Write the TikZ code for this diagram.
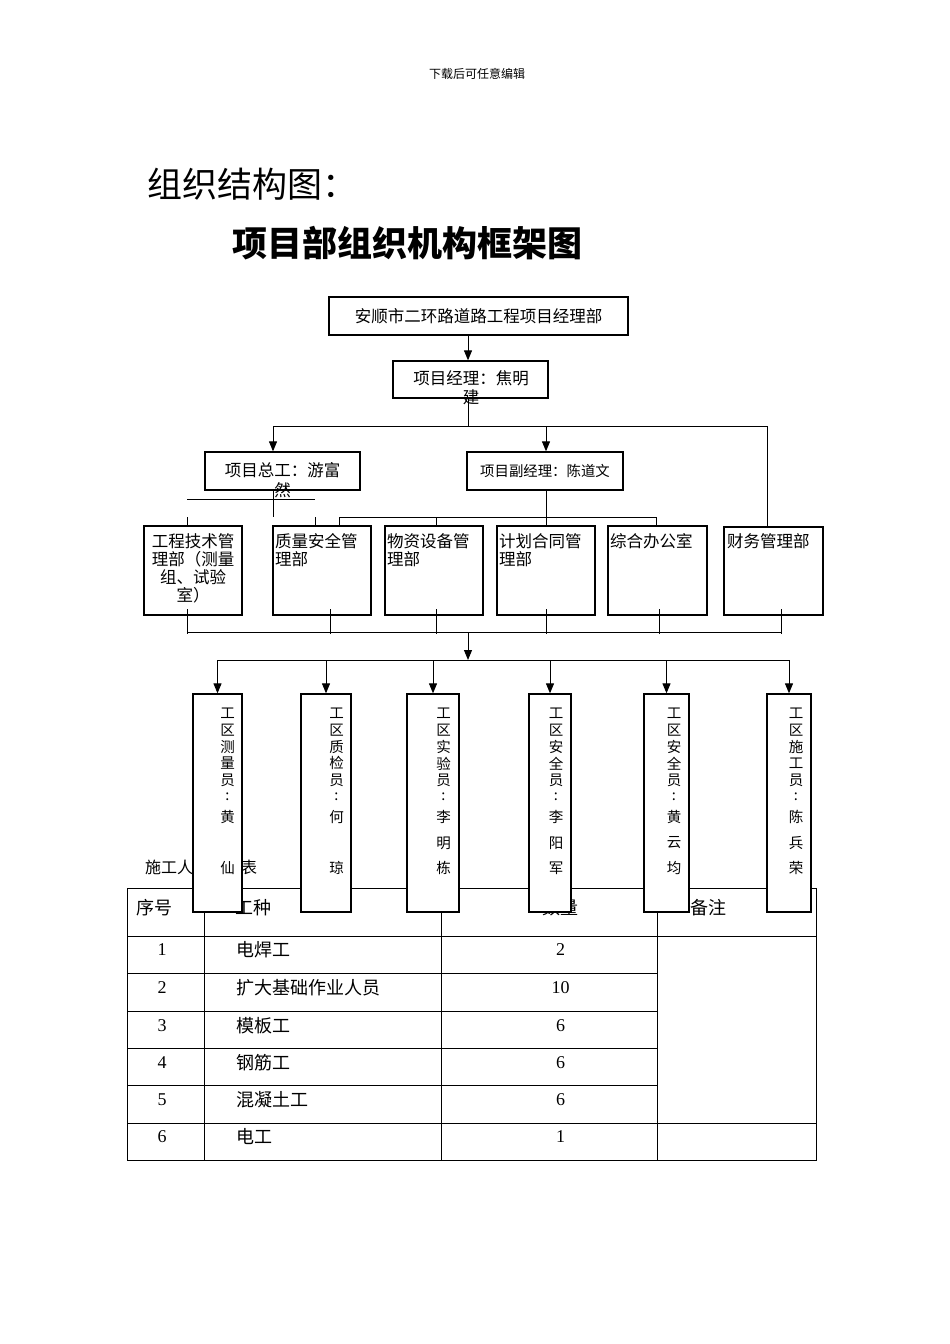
\documentclass[tikz,border=0pt]{standalone}
\usepackage{fontspec}
\setmainfont{Noto Sans CJK SC}
\newfontfamily\numfont{Liberation Serif}
\usetikzlibrary{arrows.meta,positioning}
\tikzset{
  box/.style={draw, line width=1.3pt, inner sep=0pt},
  dept/.style={box, minimum height=89pt},
  wbox/.style={box, fill=white, minimum height=218pt},
  arr/.style={-{Triangle[length=10pt,width=8pt]}, line width=1pt},
  ln/.style={line width=1pt},
  txt/.style={font=\fontsize{16.5}{19}\selectfont, inner sep=0pt},
  dtxt/.style={font=\fontsize{16.5}{18}\selectfont, inner sep=0pt},
  vch/.style={font=\fontsize{14.5}{15}\selectfont, inner sep=0pt},
  cell/.style={font=\fontsize{18}{20}\selectfont, inner sep=0pt},
  grid/.style={line width=0.9pt},
}
% one column of upright characters in a tall box
\newcommand\vcol[4]{%
  \foreach \vc [count=\k] in {#3}
    \node[vch] (#1r\k) at (#2,{713+16.8*(\k-1)}) {\vc};
  \foreach \yy/\vc [count=\k] in {#4}
    \node[vch] (#1n\k) at (#2,\yy) {\vc};
}

\begin{document}
\begin{tikzpicture}[x=1pt, y=-1pt]
  \useasboundingbox[fill=white] (0,0) rectangle (950,1344);

  % headings
  \node[font=\fontsize{12}{14}\selectfont] (hdr) at (477,74) {下载后可任意编辑};
  \node[font=\fontsize{35}{40}\selectfont, anchor=west, inner sep=0pt] (ttl1) at (147,184) {组织结构图：};
  \node[font=\fontsize{35}{40}\selectfont\bfseries, anchor=west, inner sep=0pt] (ttl2) at (232,243) {项目部组织机构框架图};

  % upper levels
  \node[box, txt, minimum width=299pt, minimum height=38pt] (top) at (478.5,316) {安顺市二环路道路工程项目经理部};
  \node[box, minimum width=155pt, minimum height=37pt] (pm) at (470.5,379.5) {};
  \node[txt, align=center, anchor=north] (pmt) at (471,370) {项目经理：焦明\\建};
  \node[box, minimum width=155pt, minimum height=38pt] (chief) at (282.5,471) {};
  \node[txt, align=center, anchor=north, font=\fontsize{16.5}{20}\selectfont] (chieft) at (282.5,462) {项目总工：游富\\然};
  \node[box, minimum width=156pt, minimum height=38pt, font=\fontsize{14.4}{16}\selectfont] (dpm) at (545,471) {项目副经理：陈道文};

  % departments
  \node[dept, minimum width=98pt] (d1) at (193,570.5) {};
  \node[dept, minimum width=98pt] (d2) at (322,570.5) {};
  \node[dept, minimum width=98pt] (d3) at (434,570.5) {};
  \node[dept, minimum width=98pt] (d4) at (546,570.5) {};
  \node[dept, minimum width=99pt] (d5) at (657.5,570.5) {};
  \node[dept, minimum width=99pt, minimum height=88pt] (d6) at (773.5,571) {};
  \node[dtxt, align=center, anchor=north] (d1t) at (193,533) {工程技术管\\理部（测量\\组、试验\\室）};
  \node[dtxt, align=left, anchor=north west] (d2t) at (275,533) {质量安全管\\理部};
  \node[dtxt, align=left, anchor=north west] (d3t) at (387,533) {物资设备管\\理部};
  \node[dtxt, align=left, anchor=north west] (d4t) at (499,533) {计划合同管\\理部};
  \node[dtxt, anchor=north west] (d5t) at (610,533) {综合办公室};
  \node[dtxt, anchor=north west] (d6t) at (727,533) {财务管理部};

  % connectors, upper part
  \coordinate (j1) at (468,426);
  \coordinate (jl) at (273,426);
  \coordinate (jm) at (546,426);
  \coordinate (jr) at (767,426);
  \draw[arr] (top.south -| j1) -- (pm.north -| j1);
  \draw[ln] (pm.south -| j1) -- (j1);
  \draw[ln] (jl) -- (jr);
  \draw[arr] (jl) -- (jl |- chief.north);
  \draw[arr] (jm) -- (jm |- dpm.north);
  \draw[ln] (jr) -- (jr |- d6.north);

  % under the chief engineer
  \coordinate (c1) at (273,517);
  \draw[ln] (chief.south -| c1) -- (c1);
  \draw[ln] (187,499) -- (315,499);
  \foreach \x in {187,315}
    \draw[ln] (\x,517) -- (\x,526);

  % under the deputy manager
  \coordinate (c2) at (546,517);
  \draw[ln] (dpm.south -| c2) -- (c2);
  \draw[ln] (339,517) -- (656,517);
  \foreach \x in {339,436,546,656}
    \draw[ln] (\x,517) -- (\x,526);

  % bottom collector
  \foreach \x in {187,330,436,546,659,781}
    \draw[ln] (\x,609) -- (\x,634);
  \draw[ln] (187,632) -- (781,632);
  \coordinate (bus) at (468,660);
  \draw[arr] (468,632) -- (bus);

  % staff table
  \node[font=\fontsize{16}{18}\selectfont, anchor=west, inner sep=0pt] (tcap) at (145,867) {施工人员配备表};
  \draw[grid] (127,888) rectangle (816,1160);
  \foreach \x in {204,441,657.5}
    \draw[grid] (\x,888) -- (\x,1160);
  \draw[grid] (127,936) -- (816,936);
  \foreach \y in {973,1011,1048,1085}
    \draw[grid] (127,\y) -- (657.5,\y);
  \draw[grid] (127,1123) -- (816,1123);
  \node[cell, anchor=west] (h1) at (136,908) {序号};
  \node[cell, anchor=west] (h2) at (235,908) {工种};
  \node[cell] (h3) at (560,908) {数量};
  \node[cell, anchor=west] (h4) at (690,908) {备注};
  \foreach \job/\q/\y [count=\r] in {电焊工/2/950, 扩大基础作业人员/10/988, 模板工/6/1026,
      钢筋工/6/1063, 混凝土工/6/1100, 电工/1/1137} {
    \node[cell, font=\fontsize{18}{20}\numfont] (no\r) at (162,\y) {\r};
    \node[cell, anchor=west] (job\r) at (236,\y) {\job};
    \node[cell, font=\fontsize{18}{20}\numfont] (qty\r) at (560.5,\y) {\q};
  }

  % site staff
  \node[wbox, minimum width=49pt] (w1) at (217.5,803) {};
  \node[wbox, minimum width=50pt] (w2) at (326,803) {};
  \node[wbox, minimum width=52pt] (w3) at (433,803) {};
  \node[wbox, minimum width=42pt] (w4) at (550,803) {};
  \node[wbox, minimum width=45pt] (w5) at (666.5,803) {};
  \node[wbox, minimum width=44pt] (w6) at (789,803) {};
  \draw[ln] (w1.north |- bus) -- (w6.north |- bus);
  \foreach \w in {w1,w2,w3,w4,w5,w6}
    \draw[arr] (\w.north |- bus) -- (\w.north);
  \vcol{w1}{227.5}{工,区,测,量,员,:}{817/黄,868/仙}
  \vcol{w2}{336.5}{工,区,质,检,员,:}{817/何,868/琼}
  \vcol{w3}{443.5}{工,区,实,验,员,:}{817/李,843/明,868/栋}
  \vcol{w4}{556}{工,区,安,全,员,:}{817/李,843/阳,868/军}
  \vcol{w5}{674}{工,区,安,全,员,:}{817/黄,843/云,868/均}
  \vcol{w6}{796}{工,区,施,工,员,:}{817/陈,843/兵,868/荣}
\end{tikzpicture}
\end{document}
